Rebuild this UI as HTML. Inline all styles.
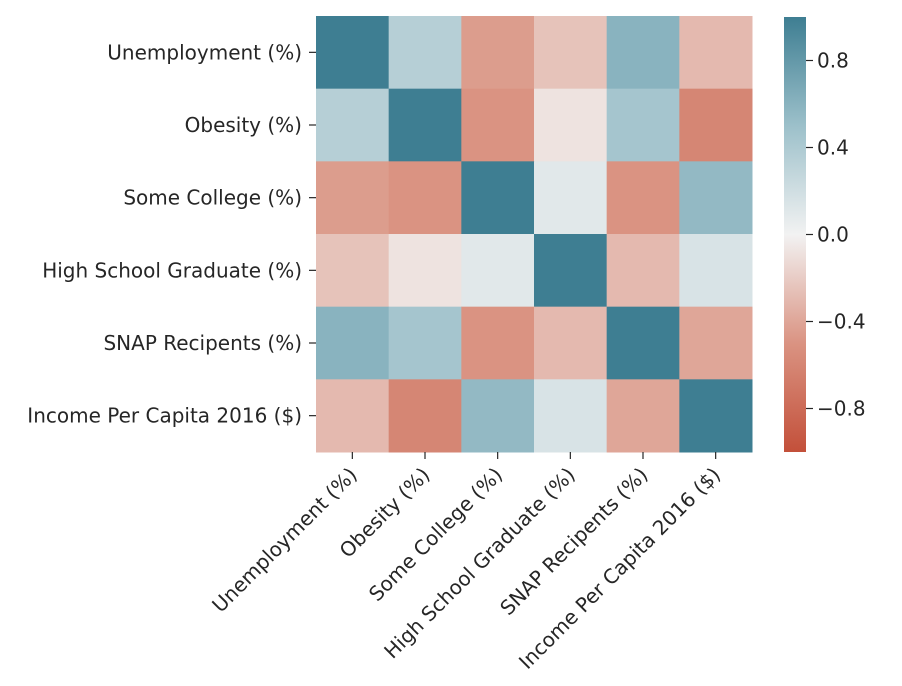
<!DOCTYPE html>
<html><head><meta charset="utf-8"><style>
html,body{margin:0;padding:0;background:#fff;width:902px;height:686px;overflow:hidden}
text{font-family:"DejaVu Sans","Liberation Sans",sans-serif;font-size:20px;fill:#262626}
</style></head><body>
<svg id="chart" width="902" height="686" xmlns="http://www.w3.org/2000/svg">
<defs><linearGradient id="cbgrad" x1="0" y1="1" x2="0" y2="0">
<stop offset="0" stop-color="#c3503a"/><stop offset="0.25" stop-color="#da9382"/>
<stop offset="0.5" stop-color="#f2f2f2"/><stop offset="0.75" stop-color="#9cc0ca"/>
<stop offset="1" stop-color="#3e7e92"/></linearGradient></defs>
<g id="cells"></g><g id="ylabels"></g><g id="xlabels"></g>
<rect x="784" y="17" width="22" height="435" fill="url(#cbgrad)"/>
<g id="cbticks"></g>
</svg>
<script>
const labels=["Unemployment (%)","Obesity (%)","Some College (%)","High School Graduate (%)","SNAP Recipents (%)","Income Per Capita 2016 ($)"];
const row0=[1,0.35,-0.45,-0.25,0.6,-0.3];
const row1=[0.35,1,-0.5,-0.08,0.45,-0.6];
const row2=[-0.45,-0.5,1,0.1,-0.5,0.55];
const row3=[-0.25,-0.08,0.1,1,-0.3,0.15];
const row4=[0.6,0.45,-0.5,-0.3,1,-0.4];
const row5=[-0.3,-0.6,0.55,0.15,-0.4,1];
const matrix=[row0,row1,row2,row3,row4,row5];
const cbTicks=[0.8,0.4,0,-0.4,-0.8];
const cbLabels=["0.8","0.4","0.0","\u22120.4","\u22120.8"];
const NS="http://www.w3.org/2000/svg";
const X0=316,Y0=16,W=436,H=436,n=labels.length,cw=W/n,ch=H/n;
const stops=[[-1,[195,80,58]],[-0.5,[218,147,130]],[0,[242,242,242]],[0.5,[156,192,202]],[1,[62,126,146]]];
function color(v){v=Math.max(-1,Math.min(1,v));for(let i=0;i<stops.length-1;i++){const a=stops[i],b=stops[i+1];if(v<=b[0]){const t=(v-a[0])/(b[0]-a[0]);return "rgb("+a[1].map((c,k)=>Math.round(c+(b[1][k]-c)*t)).join(",")+")";}}return "rgb(62,126,146)";}
function cbY(v){return 234.5-v*217.5;}
function mk(t,a,p){const e=document.createElementNS(NS,t);for(const k in a)e.setAttribute(k,a[k]);p.appendChild(e);return e;}
const gc=document.getElementById('cells'),gy=document.getElementById('ylabels'),gx=document.getElementById('xlabels'),gt=document.getElementById('cbticks');
matrix.forEach((row,i)=>row.forEach((v,j)=>{
 const r=mk('rect',{x:X0+j*cw,y:Y0+i*ch,width:cw+0.5,height:ch+0.5,fill:color(v)},gc);
 
 
}));
labels.forEach((l,i)=>{
 const y=Y0+(i+0.5)*ch;
 mk('line',{x1:X0-7,x2:X0,y1:y,y2:y,stroke:'#262626','stroke-width':1.2},gy);
 const t=mk('text',{x:X0-14,y:y+7,'text-anchor':'end'},gy);t.textContent=l;
 
 
 const x=X0+(i+0.5)*cw;
 mk('line',{x1:x,x2:x,y1:Y0+H,y2:Y0+H+7,stroke:'#262626','stroke-width':1.2},gx);
 const ax=x+6,ay=Y0+H+24;
 const tx=mk('text',{x:ax,y:ay,'text-anchor':'end',transform:'rotate(-45 '+ax+' '+ay+')'},gx);tx.textContent=l;
 
 
});
cbTicks.forEach((v,i)=>{
 const y=cbY(v);
 mk('line',{x1:806,x2:813,y1:y,y2:y,stroke:'#262626','stroke-width':1.2},gt);
 const t=mk('text',{x:817,y:y+7},gt);t.textContent=cbLabels[i];
 
 
});
</script>
</body></html>
